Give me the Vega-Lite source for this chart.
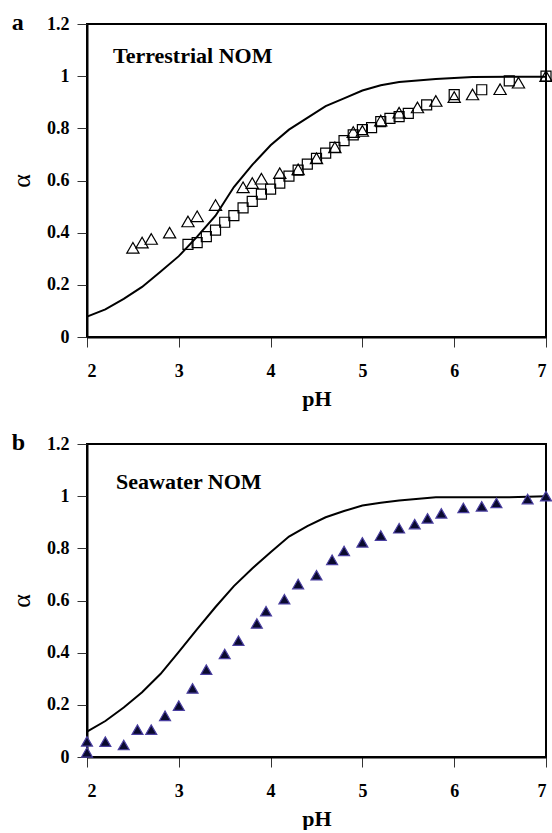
{
  "$schema": "https://vega.github.io/schema/vega-lite/v6.json",
  "padding": {"left": 7, "top": 9, "right": 5, "bottom": 0},
  "background": "white",
  "datasets": {
    "terrestrial": [
      {"pH": 2.0, "alpha": 0.078, "series": "model"},
      {"pH": 2.2, "alpha": 0.106, "series": "model"},
      {"pH": 2.4, "alpha": 0.146, "series": "model"},
      {"pH": 2.6, "alpha": 0.192, "series": "model"},
      {"pH": 2.8, "alpha": 0.25, "series": "model"},
      {"pH": 3.0, "alpha": 0.31, "series": "model"},
      {"pH": 3.2, "alpha": 0.385, "series": "model"},
      {"pH": 3.4, "alpha": 0.465, "series": "model"},
      {"pH": 3.6, "alpha": 0.575, "series": "model"},
      {"pH": 3.8, "alpha": 0.66, "series": "model"},
      {"pH": 4.0, "alpha": 0.735, "series": "model"},
      {"pH": 4.2, "alpha": 0.795, "series": "model"},
      {"pH": 4.4, "alpha": 0.84, "series": "model"},
      {"pH": 4.6, "alpha": 0.885, "series": "model"},
      {"pH": 4.8, "alpha": 0.915, "series": "model"},
      {"pH": 5.0, "alpha": 0.945, "series": "model"},
      {"pH": 5.2, "alpha": 0.965, "series": "model"},
      {"pH": 5.4, "alpha": 0.978, "series": "model"},
      {"pH": 5.8, "alpha": 0.989, "series": "model"},
      {"pH": 6.2, "alpha": 0.997, "series": "model"},
      {"pH": 7.0, "alpha": 0.998, "series": "model"},
      {"pH": 3.1, "alpha": 0.355, "series": "square"},
      {"pH": 3.2, "alpha": 0.362, "series": "square"},
      {"pH": 3.3, "alpha": 0.385, "series": "square"},
      {"pH": 3.4, "alpha": 0.41, "series": "square"},
      {"pH": 3.5, "alpha": 0.44, "series": "square"},
      {"pH": 3.6, "alpha": 0.465, "series": "square"},
      {"pH": 3.7, "alpha": 0.495, "series": "square"},
      {"pH": 3.8, "alpha": 0.52, "series": "square"},
      {"pH": 3.9, "alpha": 0.548, "series": "square"},
      {"pH": 4.0, "alpha": 0.567, "series": "square"},
      {"pH": 4.1, "alpha": 0.59, "series": "square"},
      {"pH": 4.2, "alpha": 0.617, "series": "square"},
      {"pH": 4.3, "alpha": 0.64, "series": "square"},
      {"pH": 4.4, "alpha": 0.663, "series": "square"},
      {"pH": 4.5, "alpha": 0.685, "series": "square"},
      {"pH": 4.6, "alpha": 0.705, "series": "square"},
      {"pH": 4.7, "alpha": 0.727, "series": "square"},
      {"pH": 4.8, "alpha": 0.753, "series": "square"},
      {"pH": 4.9, "alpha": 0.775, "series": "square"},
      {"pH": 5.0, "alpha": 0.795, "series": "square"},
      {"pH": 5.1, "alpha": 0.803, "series": "square"},
      {"pH": 5.2, "alpha": 0.826, "series": "square"},
      {"pH": 5.3, "alpha": 0.838, "series": "square"},
      {"pH": 5.4, "alpha": 0.845, "series": "square"},
      {"pH": 5.5, "alpha": 0.857, "series": "square"},
      {"pH": 5.7, "alpha": 0.89, "series": "square"},
      {"pH": 6.0, "alpha": 0.929, "series": "square"},
      {"pH": 6.3, "alpha": 0.948, "series": "square"},
      {"pH": 6.6, "alpha": 0.982, "series": "square"},
      {"pH": 7.0, "alpha": 1.0, "series": "square"},
      {"pH": 2.5, "alpha": 0.342, "series": "triangle"},
      {"pH": 2.6, "alpha": 0.362, "series": "triangle"},
      {"pH": 2.7, "alpha": 0.376, "series": "triangle"},
      {"pH": 2.9, "alpha": 0.40, "series": "triangle"},
      {"pH": 3.1, "alpha": 0.443, "series": "triangle"},
      {"pH": 3.2, "alpha": 0.463, "series": "triangle"},
      {"pH": 3.4, "alpha": 0.506, "series": "triangle"},
      {"pH": 3.7, "alpha": 0.574, "series": "triangle"},
      {"pH": 3.8, "alpha": 0.59, "series": "triangle"},
      {"pH": 3.9, "alpha": 0.607, "series": "triangle"},
      {"pH": 4.1, "alpha": 0.628, "series": "triangle"},
      {"pH": 4.3, "alpha": 0.643, "series": "triangle"},
      {"pH": 4.5, "alpha": 0.685, "series": "triangle"},
      {"pH": 4.7, "alpha": 0.727, "series": "triangle"},
      {"pH": 4.9, "alpha": 0.786, "series": "triangle"},
      {"pH": 5.0, "alpha": 0.79, "series": "triangle"},
      {"pH": 5.2, "alpha": 0.83, "series": "triangle"},
      {"pH": 5.4, "alpha": 0.86, "series": "triangle"},
      {"pH": 5.6, "alpha": 0.88, "series": "triangle"},
      {"pH": 5.8, "alpha": 0.905, "series": "triangle"},
      {"pH": 6.0, "alpha": 0.92, "series": "triangle"},
      {"pH": 6.2, "alpha": 0.93, "series": "triangle"},
      {"pH": 6.5, "alpha": 0.95, "series": "triangle"},
      {"pH": 6.7, "alpha": 0.975, "series": "triangle"},
      {"pH": 7.0, "alpha": 1.0, "series": "triangle"}
    ],
    "seawater": [
      {"pH": 2.0, "alpha": 0.097, "series": "model"},
      {"pH": 2.2, "alpha": 0.138, "series": "model"},
      {"pH": 2.4, "alpha": 0.19, "series": "model"},
      {"pH": 2.6, "alpha": 0.248, "series": "model"},
      {"pH": 2.8, "alpha": 0.318, "series": "model"},
      {"pH": 3.0, "alpha": 0.403, "series": "model"},
      {"pH": 3.2, "alpha": 0.49, "series": "model"},
      {"pH": 3.4, "alpha": 0.575, "series": "model"},
      {"pH": 3.6, "alpha": 0.655, "series": "model"},
      {"pH": 3.8, "alpha": 0.723, "series": "model"},
      {"pH": 4.0, "alpha": 0.785, "series": "model"},
      {"pH": 4.2, "alpha": 0.845, "series": "model"},
      {"pH": 4.4, "alpha": 0.885, "series": "model"},
      {"pH": 4.6, "alpha": 0.919, "series": "model"},
      {"pH": 4.8, "alpha": 0.943, "series": "model"},
      {"pH": 5.0, "alpha": 0.964, "series": "model"},
      {"pH": 5.2, "alpha": 0.975, "series": "model"},
      {"pH": 5.4, "alpha": 0.983, "series": "model"},
      {"pH": 5.8, "alpha": 0.996, "series": "model"},
      {"pH": 6.6, "alpha": 0.996, "series": "model"},
      {"pH": 7.0, "alpha": 1.0, "series": "model"},
      {"pH": 2.0, "alpha": 0.06, "series": "triangle"},
      {"pH": 2.0, "alpha": 0.018, "series": "triangle"},
      {"pH": 2.2, "alpha": 0.059, "series": "triangle"},
      {"pH": 2.4, "alpha": 0.046, "series": "triangle"},
      {"pH": 2.55, "alpha": 0.105, "series": "triangle"},
      {"pH": 2.7, "alpha": 0.105, "series": "triangle"},
      {"pH": 2.85, "alpha": 0.158, "series": "triangle"},
      {"pH": 3.0, "alpha": 0.197, "series": "triangle"},
      {"pH": 3.15, "alpha": 0.263, "series": "triangle"},
      {"pH": 3.3, "alpha": 0.335, "series": "triangle"},
      {"pH": 3.5, "alpha": 0.395, "series": "triangle"},
      {"pH": 3.65, "alpha": 0.446, "series": "triangle"},
      {"pH": 3.85, "alpha": 0.512, "series": "triangle"},
      {"pH": 3.95, "alpha": 0.559, "series": "triangle"},
      {"pH": 4.15, "alpha": 0.605, "series": "triangle"},
      {"pH": 4.3, "alpha": 0.663, "series": "triangle"},
      {"pH": 4.5, "alpha": 0.697, "series": "triangle"},
      {"pH": 4.67, "alpha": 0.756, "series": "triangle"},
      {"pH": 4.8, "alpha": 0.79, "series": "triangle"},
      {"pH": 5.0, "alpha": 0.823, "series": "triangle"},
      {"pH": 5.2, "alpha": 0.849, "series": "triangle"},
      {"pH": 5.4, "alpha": 0.877, "series": "triangle"},
      {"pH": 5.57, "alpha": 0.893, "series": "triangle"},
      {"pH": 5.71, "alpha": 0.915, "series": "triangle"},
      {"pH": 5.86, "alpha": 0.934, "series": "triangle"},
      {"pH": 6.1, "alpha": 0.955, "series": "triangle"},
      {"pH": 6.3, "alpha": 0.961, "series": "triangle"},
      {"pH": 6.46, "alpha": 0.974, "series": "triangle"},
      {"pH": 6.8, "alpha": 0.989, "series": "triangle"},
      {"pH": 7.0, "alpha": 1.0, "series": "triangle"}
    ],
    "labels": [
      {"panel": "a", "text": "a", "pH": 1.18, "alpha": 1.178, "kind": "letter"},
      {"panel": "a", "text": "Terrestrial NOM", "pH": 2.283, "alpha": 1.051, "kind": "name"},
      {"panel": "b", "text": "b", "pH": 1.18, "alpha": 1.178, "kind": "letter"},
      {"panel": "b", "text": "Seawater NOM", "pH": 2.316, "alpha": 1.028, "kind": "name"}
    ]
  },
  "config": {
    "view": {"stroke": "black", "strokeWidth": 2},
    "font": "Liberation Serif",
    "axis": {
      "labelFont": "Liberation Serif",
      "labelFontWeight": "bold",
      "labelFontSize": 18,
      "labelColor": "black",
      "titleFont": "Liberation Serif",
      "titleFontWeight": "bold",
      "titleFontSize": 22,
      "titleColor": "black",
      "domainColor": "black",
      "domainWidth": 2,
      "tickColor": "#333",
      "tickWidth": 1,
      "tickSize": 10,
      "grid": false
    }
  },
  "spacing": 19,
  "vconcat": [
    {
      "width": 459,
      "height": 313,
      "layer": [
        {
          "data": {"name": "terrestrial"},
          "transform": [{"filter": "datum.series === 'model'"}],
          "mark": {"type": "line", "color": "black", "strokeWidth": 2},
          "encoding": {
            "x": {"field": "pH", "type": "quantitative", "scale": {"domain": [2, 7], "nice": false}, "axis": {"values": [2, 3, 4, 5, 6, 7], "format": "~g", "title": "pH", "labelPadding": 15, "titlePadding": 8}},
            "y": {"field": "alpha", "type": "quantitative", "scale": {"domain": [0, 1.2], "nice": false}, "axis": {"values": [0, 0.2, 0.4, 0.6, 0.8, 1, 1.2], "format": "~g", "title": "α", "titleFontSize": 26, "titleFontWeight": "normal", "labelPadding": 8, "titlePadding": 12}}
          }
        },
        {
          "data": {"name": "terrestrial"},
          "transform": [{"filter": "datum.series === 'square'"}],
          "mark": {"type": "point", "shape": "square", "filled": false, "stroke": "black", "strokeWidth": 1.2, "size": 100, "opacity": 1},
          "encoding": {
            "x": {"field": "pH", "type": "quantitative"},
            "y": {"field": "alpha", "type": "quantitative"}
          }
        },
        {
          "data": {"name": "terrestrial"},
          "transform": [{"filter": "datum.series === 'triangle'"}],
          "mark": {"type": "point", "shape": "triangle-up", "filled": false, "stroke": "black", "strokeWidth": 1.2, "size": 150, "opacity": 1},
          "encoding": {
            "x": {"field": "pH", "type": "quantitative"},
            "y": {"field": "alpha", "type": "quantitative"}
          }
        },
        {
          "data": {"name": "labels"},
          "transform": [{"filter": "datum.panel === 'a'"}],
          "mark": {"type": "text", "align": "left", "baseline": "alphabetic", "font": "Liberation Serif", "fontWeight": "bold", "color": "black"},
          "encoding": {
            "x": {"field": "pH", "type": "quantitative"},
            "y": {"field": "alpha", "type": "quantitative"},
            "text": {"field": "text"},
            "size": {"condition": {"test": "datum.kind === 'letter'", "value": 24}, "value": 22}
          }
        }
      ]
    },
    {
      "width": 459,
      "height": 313,
      "layer": [
        {
          "data": {"name": "seawater"},
          "transform": [{"filter": "datum.series === 'model'"}],
          "mark": {"type": "line", "color": "black", "strokeWidth": 2},
          "encoding": {
            "x": {"field": "pH", "type": "quantitative", "scale": {"domain": [2, 7], "nice": false}, "axis": {"values": [2, 3, 4, 5, 6, 7], "format": "~g", "title": "pH", "labelPadding": 15, "titlePadding": 8}},
            "y": {"field": "alpha", "type": "quantitative", "scale": {"domain": [0, 1.2], "nice": false}, "axis": {"values": [0, 0.2, 0.4, 0.6, 0.8, 1, 1.2], "format": "~g", "title": "α", "titleFontSize": 26, "titleFontWeight": "normal", "labelPadding": 8, "titlePadding": 12}}
          }
        },
        {
          "data": {"name": "seawater"},
          "transform": [{"filter": "datum.series === 'triangle'"}],
          "mark": {"type": "point", "shape": "triangle-up", "filled": true, "fill": "#0a0a2e", "stroke": "#4a3fa0", "strokeWidth": 1.2, "size": 120, "opacity": 1},
          "encoding": {
            "x": {"field": "pH", "type": "quantitative"},
            "y": {"field": "alpha", "type": "quantitative"}
          }
        },
        {
          "data": {"name": "labels"},
          "transform": [{"filter": "datum.panel === 'b'"}],
          "mark": {"type": "text", "align": "left", "baseline": "alphabetic", "font": "Liberation Serif", "fontWeight": "bold", "color": "black"},
          "encoding": {
            "x": {"field": "pH", "type": "quantitative"},
            "y": {"field": "alpha", "type": "quantitative"},
            "text": {"field": "text"},
            "size": {"condition": {"test": "datum.kind === 'letter'", "value": 24}, "value": 22}
          }
        }
      ]
    }
  ]
}
